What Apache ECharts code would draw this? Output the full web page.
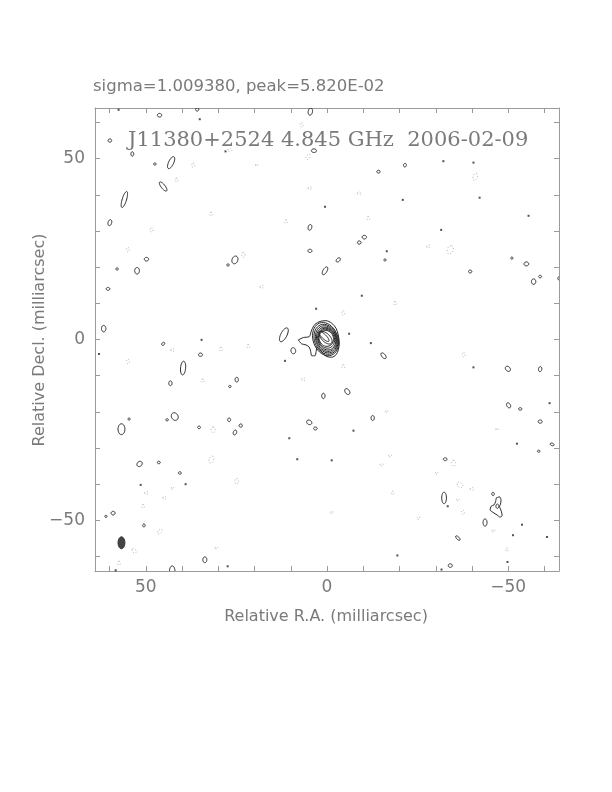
<!DOCTYPE html>
<html><head><meta charset="utf-8">
<script src="https://cdn.jsdelivr.net/npm/echarts@6/dist/echarts.min.js"></script>
<style>html,body{margin:0;padding:0;background:#fff}#c{width:612px;height:792px}</style>
</head><body><div id="c"></div>
<script>
// ---- data (milliarcsec) ----
const axisRange = [-64, 64];
const minorTicks = [-60,-50,-40,-30,-20,-10,0,10,20,30,40,50,60];
const tickLabels = [-50, 0, 50];
const topText = 'sigma=1.009380, peak=5.820E-02';
const titleText = 'J11380+2524 4.845 GHz  2006-02-09';
const xName = 'Relative R.A. (milliarcsec)';
const yName = 'Relative Decl. (milliarcsec)';

// positive contour islands: [x, y, semiMajor, semiMinor, angleDeg]
const posBlobs = [
  [46.2,62.0,0.6,0.5,0],[35.8,63.6,0.45,0.45,0],[4.6,63.0,1.0,0.6,100],[59.9,55.0,0.5,0.45,0],
  [53.7,51.3,0.6,0.4,90],[43.0,48.9,1.8,0.7,115],[47.5,48.5,0.35,0.3,0],[45.2,42.3,1.55,0.55,52],
  [55.9,38.7,2.3,0.6,107],[59.9,32.3,0.85,0.5,105],[4.7,31.0,0.8,0.5,105],[4.7,24.5,0.55,0.45,0],
  [0.55,19.0,1.2,0.55,120],[49.8,22.2,0.6,0.5,0],[52.4,19.0,0.9,0.65,90],[57.9,19.5,0.35,0.3,0],
  [25.4,22.0,1.1,0.8,110],[27.3,20.6,0.35,0.3,0],[60.4,14.0,0.5,0.4,0],[61.6,3.0,0.9,0.6,90],
  [-21.5,48.2,0.5,0.4,100],[-14.2,46.4,0.45,0.4,0],[-8.9,26.8,0.5,0.45,0],[-10.3,28.3,0.6,0.5,0],
  [-3.1,22.0,0.7,0.45,135],[-16.0,22.0,0.3,0.3,0],[-39.5,18.8,0.45,0.4,0],[-51.0,22.5,0.3,0.3,0],
  [-55.0,20.9,0.65,0.55,0],[-57.0,16.0,0.75,0.6,90],[-58.8,17.4,0.4,0.35,0],[-65.0,16.9,1.3,0.9,0],
  [45.2,-1.2,0.5,0.35,135],[34.9,-4.2,0.55,0.45,0],[39.7,-7.9,1.9,0.7,95],[43.2,-12.1,0.65,0.45,90],
  [24.9,-11.1,0.65,0.45,90],[26.8,-13.0,0.35,0.3,0],[1.0,-15.6,0.75,0.45,90],[9.3,-3.1,0.85,0.65,80],
  [11.9,1.3,2.1,0.85,117],[42.0,-21.3,1.1,0.9,60],[44.1,-22.2,0.35,0.3,0],[56.7,-24.8,1.5,0.95,90],
  [54.6,-22.0,0.3,0.3,0],[27.0,-22.2,0.5,0.4,90],[23.8,-23.8,0.45,0.45,0],[25.4,-25.7,0.7,0.45,110],
  [35.3,-24.3,0.4,0.35,0],[4.9,-22.9,0.75,0.6,30],[3.2,-24.6,0.5,0.4,0],[51.7,-34.4,0.8,0.65,135],
  [46.4,-34.0,0.4,0.35,0],[40.6,-36.9,0.4,0.35,0],[59.0,-48.0,0.55,0.5,0],[61.0,-48.9,0.3,0.3,0],
  [50.5,-51.4,0.4,0.35,90],[33.7,-60.9,0.8,0.55,90],[42.7,-64.0,1.4,0.75,90],
  [-15.6,-4.5,0.95,0.5,50],[-49.9,-8.1,0.8,0.6,45],[-58.8,-8.2,0.7,0.45,100],[-5.6,-14.4,0.9,0.6,55],
  [-12.6,-21.7,0.7,0.45,90],[-50.1,-18.2,0.75,0.5,60],[-53.3,-19.2,0.45,0.35,0],[-58.8,-22.7,0.55,0.45,0],
  [-62.1,-29.0,0.55,0.35,20],[-58.4,-30.9,0.35,0.3,0],[-32.6,-33.1,0.5,0.4,0],[-32.3,-43.8,1.6,0.65,90],
  [-45.8,-42.7,0.45,0.35,90],[-47.0,-46.1,0.6,0.4,90],[-43.6,-50.6,1.0,0.55,90],[-36.1,-54.9,0.8,0.35,45],
  [-34.0,-62.5,0.55,0.5,0],[3.6,52.2,0.7,0.5,0]
];
// core contour levels (inner): [x, y, semiMajor, semiMinor, angleDeg]
const coreLevels = [
  [0.4,0.1,4.73,3.42,70],[0.3,0.05,4.26,3.15,70],[0.2,0.05,3.85,2.87,70],[0.15,0.05,3.43,2.65,70],
  [0.1,0.1,3.07,2.41,70],[0.15,0.2,2.65,2.19,70],[0.2,0.3,2.23,1.97,70],[0.35,0.5,2.2,1.15,45],
  [0.85,0.85,1.9,0.6,45]
];
// outer core contour (with tail)
const coreOuterX = [7.9,6.5,4.9,4.2,3.3,1.9,0.3,-1.3,-2.5,-3.1,-3.4,-3.1,-2.5,-1.3,0.1,1.0,1.9,2.7,3.0,3.3,4.2,4.5,4.9,5.8,7.0,7.9];
const coreOuterY = [-0.1,0.55,0.8,2.7,4.2,5.0,5.2,4.5,3.1,1.3,-1.0,-2.9,-4.2,-4.9,-4.7,-4.0,-2.9,-2.1,-3.3,-4.5,-4.5,-3.3,-2.1,-1.5,-1.2,-0.1];
// irregular island near (-47,-46)
const bootX = [-46.7,-47.6,-48.0,-47.8,-47.6,-48.1,-48.3,-47.8,-46.9,-45.8,-45.0,-45.3,-46.1,-46.5,-46.7];
const bootY = [-43.8,-43.5,-44.5,-45.7,-46.1,-47.5,-48.7,-49.1,-48.5,-47.8,-47.1,-46.1,-45.7,-44.8,-43.8];
// single-pixel islands
const dots = [
  [35.1,60.9],[0.55,36.7],[-32.1,49.3],[-40.4,48.9],[-20.9,38.6],[-42.1,39.2],[-55.6,34.2],[-31.5,30.3],
  [-16.5,24.4],[34.6,-0.1],[62.9,-4.0],[11.6,-5.9],[10.4,-27.3],[8.2,-33.1],[51.4,-40.2],[39.0,-40.0],
  [27.4,-62.7],[58.3,-63.8],[-52.4,-28.8],[-33.3,-46.1],[-53.8,-51.2],[-51.3,-54.1],[-60.7,-54.6],
  [-19.4,-59.7],[-31.6,-63.6],[-1.3,-33.4],[-6.1,1.6],[-12.1,-1.0],[-40.4,-7.7],[-7.3,-25.2],
  [-61.4,-17.6],[-49.8,-61.5],[-9.6,12.1],[3.0,8.5],[28.0,52.0],[57.5,63.5]
];
// negative contour islands: [x, y, semiMajor, semiMinor, angleDeg]
const negBlobs = [
  [36.9,48.2,0.6,0.4,90],[41.5,44.1,0.5,0.4,90],[48.4,30.3,0.6,0.4,90],[32.0,34.7,0.5,0.4,90],
  [54.9,24.8,0.6,0.4,90],[23.1,23.4,0.7,0.5,90],[7.0,59.3,0.6,0.4,90],[5.2,50.5,0.8,0.5,120],
  [4.7,41.8,0.5,0.4,0],[11.3,32.6,0.5,0.4,90],[18.0,14.6,0.5,0.4,0],[19.4,48.2,0.3,0.3,0],
  [26.8,52.4,0.6,0.4,0],[-40.9,45.0,1.0,0.6,110],[-8.9,40.4,0.5,0.4,0],[-11.4,33.5,0.5,0.4,90],
  [-34.0,24.8,1.2,0.8,110],[-28.0,25.7,0.5,0.4,0],[54.9,-6.1,0.6,0.4,90],[29.3,-2.7,0.5,0.4,90],
  [21.7,-1.9,0.5,0.4,90],[42.6,-2.9,0.5,0.4,0],[34.3,-11.4,0.5,0.4,90],[6.5,-11.0,0.5,0.4,0],
  [31.4,-25.0,0.8,0.6,90],[31.9,-33.2,1.0,0.6,110],[24.9,-39.2,0.8,0.5,90],[49.8,-42.4,0.5,0.4,0],
  [44.8,-43.7,0.5,0.4,0],[42.6,-41.1,0.4,0.3,0],[50.7,-46.1,0.5,0.4,90],[46.1,-53.1,0.8,0.5,135],
  [53.2,-58.4,0.7,0.5,45],[30.5,-57.6,0.4,0.3,0],[57.4,-61.8,0.5,0.4,90],[-4.5,-7.5,0.5,0.4,90],
  [-37.7,-4.2,0.6,0.4,90],[-16.5,-19.9,0.4,0.3,0],[-17.4,-32.1,0.4,0.3,0],[-15.1,-34.6,0.4,0.3,0],
  [-34.9,-34.2,0.8,0.6,90],[-30.3,-36.9,0.4,0.3,0],[-36.7,-40.2,0.9,0.6,45],[-40.0,-41.3,0.5,0.4,0],
  [-18.1,-42.4,0.5,0.3,90],[-46.9,-24.8,0.3,0.3,0],[-37.5,-47.8,0.6,0.4,90],[-36.1,-44.3,0.4,0.3,0],
  [-1.3,-47.8,0.4,0.3,0],[-25.2,-49.4,0.5,0.3,135],[-45.9,-52.9,0.4,0.3,0],[-49.6,-58.1,0.5,0.3,90],
  [-4.5,7.3,0.6,0.4,90],[-18.8,10.0,0.5,0.4,90]
];
// restoring beam
const beam = [[56.7,-56.2,1.65,0.95,90]];

// ---- chart ----
const FRAME = '#9a9a9a', TXT = '#7a7a7a', LINE = '#262626', NEG = '#a8a8a8';
function ellipseSeries(data, style, z) {
  return {
    type: 'custom', data: data, clip: true, silent: true, animation: false, z: z || 2,
    encode: { x: 0, y: 1 },
    renderItem: function (params, api) {
      const cx = api.value(0), cy = api.value(1), a = api.value(2), b = api.value(3);
      const t = api.value(4) * Math.PI / 180;
      const pts = [];
      const n = 40;
      for (let k = 0; k < n; k++) {
        const p = 2 * Math.PI * k / n;
        const ex = a * Math.cos(p), ey = b * Math.sin(p);
        pts.push(api.coord([cx + ex * Math.cos(t) - ey * Math.sin(t), cy + ex * Math.sin(t) + ey * Math.cos(t)]));
      }
      return { type: 'polygon', shape: { points: pts }, style: style };
    }
  };
}
function polySeries(xs, ys) {
  return {
    type: 'line', data: xs.map((x, i) => [x, ys[i]]), symbol: 'none', smooth: 0.3,
    lineStyle: { color: LINE, width: 1 }, silent: true, animation: false, z: 2
  };
}
const fmt = v => (v < 0 ? '\u2212' + (-v) : String(v));
function mkAxis(extra) {
  return Object.assign({
    type: 'value', min: axisRange[0], max: axisRange[1], splitLine: { show: false },
    axisLine: { show: true, onZero: false, lineStyle: { color: FRAME, width: 1 } },
    axisTick: { show: true, inside: true, length: 5, customValues: minorTicks, lineStyle: { color: FRAME } },
    axisLabel: { show: false }
  }, extra);
}
const labelStyle = { show: true, customValues: tickLabels, formatter: fmt, color: TXT, fontSize: 17, fontFamily: 'DejaVu Sans' };

const chart = echarts.init(document.getElementById('c'), null, { renderer: 'canvas' });
chart.setOption({
  backgroundColor: '#fff',
  animation: false,
  grid: { left: 95, top: 108, width: 464, height: 463, containLabel: false },
  xAxis: [
    mkAxis({ position: 'bottom', inverse: true, axisLabel: Object.assign({ margin: 8 }, labelStyle) }),
    mkAxis({ position: 'top', inverse: true })
  ],
  yAxis: [
    mkAxis({ position: 'left', axisLabel: Object.assign({ margin: 10 }, labelStyle) }),
    mkAxis({ position: 'right' })
  ],
  series: [
    ellipseSeries(negBlobs, { fill: 'none', stroke: NEG, lineWidth: 1, lineDash: [1, 2] }, 1),
    ellipseSeries(posBlobs, { fill: 'none', stroke: LINE, lineWidth: 1 }, 2),
    ellipseSeries(coreLevels, { fill: 'none', stroke: LINE, lineWidth: 1 }, 2),
    ellipseSeries(beam, { fill: '#444', stroke: '#333', lineWidth: 1 }, 3),
    polySeries(coreOuterX, coreOuterY),
    polySeries(bootX, bootY),
    { type: 'scatter', data: dots, symbol: 'rect', symbolSize: 2, itemStyle: { color: LINE }, silent: true, animation: false, z: 2 }
  ],
  graphic: [
    { type: 'text', left: 93, top: 78, z: 100, style: { text: topText, fill: TXT, font: '16.5px "DejaVu Sans"' } },
    { type: 'text', left: 128, top: 130, z: 100, style: { text: titleText, fill: TXT, font: '21px "DejaVu Serif"' } },
    { type: 'text', x: 326, y: 617, z: 100, style: { text: xName, fill: TXT, font: '16px "DejaVu Sans"', align: 'center', verticalAlign: 'middle' } },
    { type: 'text', x: 40, y: 340, rotation: Math.PI / 2, z: 100, style: { text: yName, fill: TXT, font: '16px "DejaVu Sans"', align: 'center', verticalAlign: 'middle' } }
  ]
});
</script></body></html>
